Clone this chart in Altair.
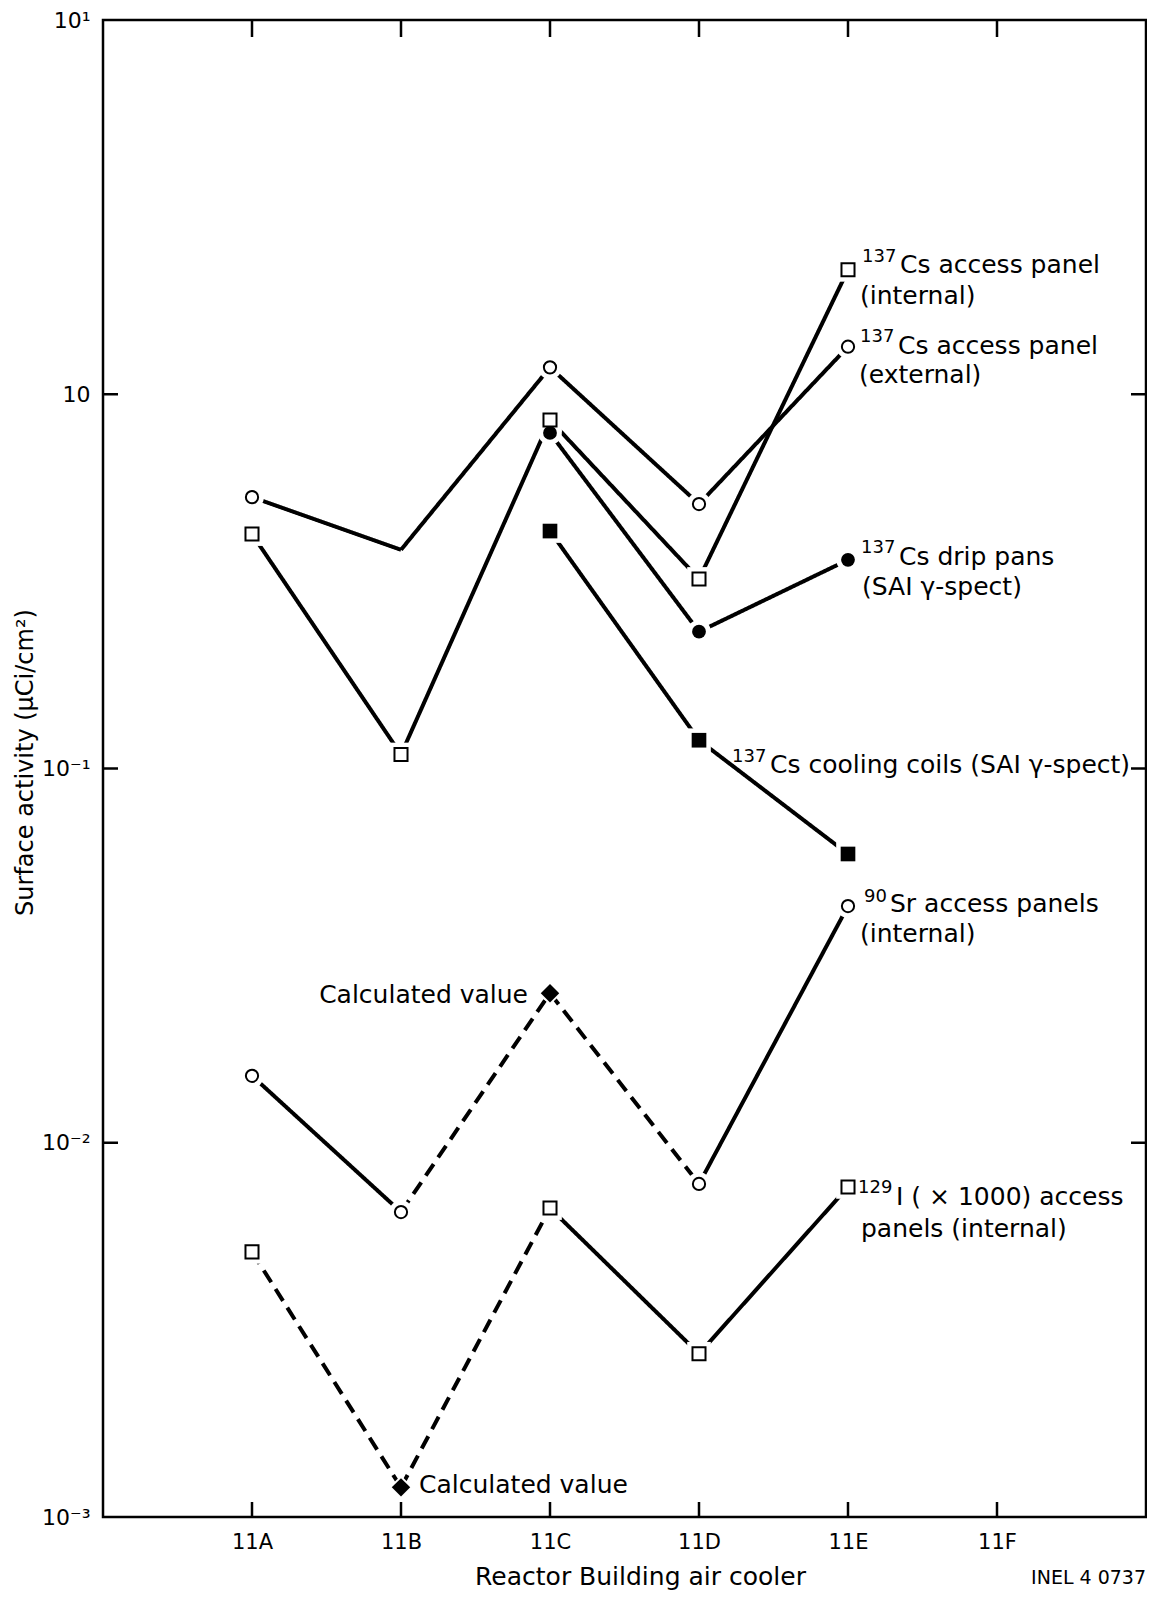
import altair as alt
import pandas as pd

FONT = "DejaVu Sans"
W, H = 1043, 1497

# ---------------- data ----------------
coolers = ["11A", "11B", "11C", "11D", "11E", "11F"]
data_coolers = ["11A", "11B", "11C", "11D", "11E"]
decades = [0.001, 0.01, 0.1, 1, 10]
inner_decades = [0.01, 0.1, 1]

cs_int = [0.423, 0.109, 0.853, 0.321, 2.15]      # 137Cs access panel (internal)
cs_ext = [0.531, 0.384, 1.18, 0.509, 1.34]       # 137Cs access panel (external)
cs_drip = [None, None, 0.788, 0.232, 0.361]      # 137Cs drip pans
cs_coil = [None, None, 0.431, 0.119, 0.0591]     # 137Cs cooling coils
sr90 = [0.0151, 0.00653, 0.0251, 0.00776, 0.0429]  # 90Sr access panels
i129 = [0.00511, 0.00120, 0.00669, 0.00273, 0.00762]  # 129I (x1000)

cs_int_mk = ["open square"] * 5
cs_ext_mk = ["open circle", "none", "open circle", "open circle", "open circle"]
cs_drip_mk = [None, None, "filled circle", "filled circle", "filled circle"]
cs_coil_mk = [None, None, "filled square", "filled square", "filled square"]
sr90_mk = ["open circle", "open circle", "filled diamond", "open circle", "open circle"]
i129_mk = ["open square", "filled diamond", "open square", "open square", "open square"]

cs_int_seg = ["solid"] * 4
cs_ext_seg = ["solid"] * 4
cs_drip_seg = [None, None, "solid", "solid"]
cs_coil_seg = [None, None, "solid", "solid"]
sr90_seg = ["solid", "dashed", "dashed", "solid"]
i129_seg = ["dashed", "dashed", "solid", "solid"]

series = [
    ("cs_int", cs_int, cs_int_mk, cs_int_seg),
    ("cs_ext", cs_ext, cs_ext_mk, cs_ext_seg),
    ("cs_drip", cs_drip, cs_drip_mk, cs_drip_seg),
    ("cs_coil", cs_coil, cs_coil_mk, cs_coil_seg),
    ("sr90", sr90, sr90_mk, sr90_seg),
    ("i129", i129, i129_mk, i129_seg),
]

marker_style = {
    "open circle": ("circle", "open", 150),
    "open square": ("square", "open", 170),
    "filled circle": ("circle", "filled", 190),
    "filled square": ("square", "filled", 215),
    "filled diamond": ("diamond", "filled", 340),
}

pts, segs = [], []
for name, vals, mks, sg in series:
    for c, v, m in zip(data_coolers, vals, mks):
        if v is None or m in (None, "none"):
            continue
        shp, fl, sz = marker_style[m]
        pts.append(dict(series=name, cooler=c, value=v, shape=shp, fill=fl, msize=sz))
    for i, s in enumerate(sg):
        if s is None:
            continue
        for j in (i, i + 1):
            segs.append(dict(seg=f"{name}-{i}", dash=s, order=j,
                             cooler=data_coolers[j], value=vals[j]))

pts_df = pd.DataFrame(pts)
seg_df = pd.DataFrame(segs)

# ---------------- encodings ----------------
label_expr = ("datum.value > 5 ? '10¹' : datum.value > 0.5 ? '10' : "
              "datum.value > 0.05 ? '10⁻¹' : datum.value > 0.005 ? '10⁻²' : '10⁻³'")

X = alt.X("cooler:N",
          scale=alt.Scale(type="point", domain=coolers, padding=1),
          axis=alt.Axis(title="Reactor Building air cooler", labelFont=FONT, labelFontSize=21,
                        labelColor="black", labelAngle=0, labelPadding=31,
                        labelBaseline="alphabetic", ticks=False, tickSize=0, domain=False,
                        grid=False, titleFont=FONT, titleFontSize=25, titleFontWeight="normal",
                        titleColor="black", titleX=537, titleY=67, titleAlign="center",
                        titleBaseline="alphabetic"))
Y = alt.Y("value:Q",
          scale=alt.Scale(type="log", domain=[0.001, 10], nice=False),
          axis=alt.Axis(title="Surface activity (μCi/cm²)", values=decades, labelExpr=label_expr,
                        labelFont=FONT, labelFontSize=22, labelColor="black", labelPadding=13,
                        labelBaseline="middle", labelFlush=False, labelOverlap=False,
                        ticks=False, tickSize=0, domain=False, grid=False,
                        titleFont=FONT, titleFontSize=24, titleFontWeight="normal",
                        titleColor="black", titleX=-78, titleY=742, titleAngle=270,
                        titleAlign="center", titleBaseline="middle"))

layers = []

# line segments
layers.append(
    alt.Chart(seg_df).mark_line(color="black", strokeWidth=4, strokeCap="butt").encode(
        x=X, y=Y, detail="seg:N", order="order:Q",
        strokeDash=alt.StrokeDash("dash:N", scale=alt.Scale(domain=["solid", "dashed"],
                                                             range=[[1, 0], [14, 8]]),
                                  legend=None))
)

# white halos so the lines stop short of the markers
layers.append(
    alt.Chart(pts_df).mark_point(filled=True, color="white", opacity=1, size=560).encode(
        x=X, y=Y, shape=alt.Shape("shape:N", scale=None))
)

# open markers
layers.append(
    alt.Chart(pts_df).transform_filter("datum.fill == 'open'").mark_point(
        filled=False, fill="white", fillOpacity=1, stroke="black", strokeWidth=2,
        opacity=1).encode(
        x=X, y=Y, shape=alt.Shape("shape:N", scale=None), size=alt.Size("msize:Q", scale=None))
)

# filled markers
layers.append(
    alt.Chart(pts_df).transform_filter("datum.fill == 'filled'").mark_point(
        filled=True, color="black", opacity=1).encode(
        x=X, y=Y, shape=alt.Shape("shape:N", scale=None), size=alt.Size("msize:Q", scale=None))
)


def label(cooler, value, text, size, dx, dy, align="left"):
    df = pd.DataFrame({"cooler": [cooler], "value": [value], "label": [text]})
    return alt.Chart(df).mark_text(font=FONT, fontSize=size, align=align, baseline="alphabetic",
                                   dx=dx, dy=dy, color="black").encode(x=X, y=Y, text="label:N")


LS = 25  # label font size
SS = 18  # superscript font size
layers += [
    label("11E", cs_int[4], "137", SS, 14, -8),
    label("11E", cs_int[4], "Cs access panel", LS, 52, 3),
    label("11E", cs_int[4], "(internal)", LS, 12, 34),
    label("11E", cs_ext[4], "137", SS, 12, -5),
    label("11E", cs_ext[4], "Cs access panel", LS, 50, 7),
    label("11E", cs_ext[4], "(external)", LS, 11, 36),
    label("11E", cs_drip[4], "137", SS, 13, -7),
    label("11E", cs_drip[4], "Cs drip pans", LS, 51, 5),
    label("11E", cs_drip[4], "(SAI γ-spect)", LS, 14, 35),
    label("11D", cs_coil[3], "137", SS, 33, 22),
    label("11D", cs_coil[3], "Cs cooling coils (SAI γ-spect)", LS, 71, 33),
    label("11E", sr90[4], "90", SS, 16, -4),
    label("11E", sr90[4], "Sr access panels", LS, 42, 6),
    label("11E", sr90[4], "(internal)", LS, 12, 36),
    label("11E", i129[4], "129", SS, 10, 6),
    label("11E", i129[4], "I ( × 1000) access", LS, 48, 18),
    label("11E", i129[4], "panels (internal)", LS, 13, 50),
    label("11C", sr90[2], "Calculated value", LS, -22, 10, align="right"),
    label("11B", i129[1], "Calculated value", LS, 18, 6),
]

# inward tick marks on all four sides
cool_df = pd.DataFrame({"cooler": coolers})
dec_df = pd.DataFrame({"value": inner_decades})
layers += [
    alt.Chart(cool_df).mark_rule(color="black", strokeWidth=2.5).encode(
        x=X, y=alt.value(H), y2=alt.value(H - 15)),
    alt.Chart(cool_df).mark_rule(color="black", strokeWidth=2.5).encode(
        x=X, y=alt.value(0), y2=alt.value(17)),
    alt.Chart(dec_df).mark_rule(color="black", strokeWidth=2.5).encode(
        y=Y, x=alt.value(0), x2=alt.value(15)),
    alt.Chart(dec_df).mark_rule(color="black", strokeWidth=2.5).encode(
        y=Y, x=alt.value(W), x2=alt.value(W - 15)),
]

# figure number
note_df = pd.DataFrame({"note": ["INEL 4 0737"]})
layers.append(
    alt.Chart(note_df).mark_text(font=FONT, fontSize=19, align="right", baseline="alphabetic",
                                 color="black").encode(
        x=alt.value(W), y=alt.value(H + 67), text="note:N")
)

chart = alt.layer(*layers).properties(
    width=W, height=H,
    padding={"left": 95, "top": 12, "right": 1, "bottom": 74},
    autosize=alt.AutoSizeParams(type="none"),
    background="white",
).configure_view(stroke="black", strokeWidth=2.5)

chart.save("out.html", embed_options={"renderer": "svg", "actions": False})
